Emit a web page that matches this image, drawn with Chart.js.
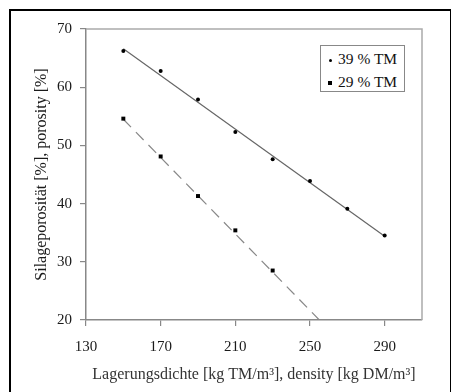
<!DOCTYPE html>
<html>
<head>
<meta charset="utf-8">
<script src="https://cdn.jsdelivr.net/npm/chart.js@4.4.1/dist/chart.umd.min.js"></script>
<style>
  body { margin: 0; background: #fff; overflow: hidden; }
  #wrap { position: relative; width: 451px; height: 392px; }
  #frame { position: absolute; left: 9px; top: 9px; width: 439px; height: 400px;
           border: 2px solid #000; border-bottom: none; pointer-events: none; }
  #legend { position: absolute; left: 320px; top: 45px; width: 83px; height: 45px;
            border: 1px solid #888; background: #fff;
            font: 15.5px "Liberation Serif", serif; color: #111; }
  #legend .row { position: absolute; left: 0; height: 20px; line-height: 20px; white-space: nowrap; }
  #legend .mark { display: inline-block; background: #000; vertical-align: middle; }
</style>
</head>
<body>
<div id="wrap">
  <canvas id="chart" width="451" height="392"></canvas>
  <div id="frame"></div>
  <div id="legend"></div>
</div>
<script>
// Data
const xTicks = [130, 170, 210, 250, 290];
const yTicks = [20, 30, 40, 50, 60, 70];

const density39 = [150, 170, 190, 210, 230, 250, 270, 290];
const porosity39 = [66.2, 62.8, 57.9, 52.3, 47.6, 43.9, 39.1, 34.5];

const density29 = [150, 170, 190, 210, 230];
const porosity29 = [54.6, 48.1, 41.3, 35.4, 28.5];

// regression lines (end points)
const fitX39 = [150, 290];
const fitY39 = [66.6, 34.4];
const fitX29 = [150, 255];
const fitY29 = [54.5, 20];

const labels = ['39 % TM', '29 % TM'];

const toPoints = (xs, ys) => xs.map((x, i) => ({ x: x, y: ys[i] }));

const FONT = 'Liberation Serif';
const textColor = '#1a1a1a';

// top/right frame of the plot area
const plotFrame = {
  id: 'plotFrame',
  afterDraw(chart) {
    const { ctx, chartArea: a } = chart;
    ctx.save();
    ctx.strokeStyle = '#aaa';
    ctx.lineWidth = 1.5;
    ctx.beginPath();
    ctx.moveTo(a.left, a.top);
    ctx.lineTo(a.right, a.top);
    ctx.lineTo(a.right, a.bottom);
    ctx.stroke();
    ctx.restore();
  }
};

const chart = new Chart(document.getElementById('chart'), {
  type: 'scatter',
  data: {
    datasets: [
      {
        label: labels[0],
        data: toPoints(density39, porosity39),
        pointStyle: 'circle',
        pointRadius: 2,
        backgroundColor: '#000',
        borderColor: '#000',
        borderWidth: 0,
        showLine: false
      },
      {
        label: labels[1],
        data: toPoints(density29, porosity29),
        pointStyle: 'rect',
        pointRadius: 2.8,
        backgroundColor: '#000',
        borderColor: '#000',
        borderWidth: 0,
        showLine: false
      },
      {
        label: 'fit39',
        data: toPoints(fitX39, fitY39),
        showLine: true,
        pointRadius: 0,
        borderColor: '#666',
        borderWidth: 1.2
      },
      {
        label: 'fit29',
        data: toPoints(fitX29, fitY29),
        showLine: true,
        pointRadius: 0,
        borderColor: '#888',
        borderWidth: 1.2,
        borderDash: [11, 7]
      }
    ]
  },
  options: {
    responsive: false,
    animation: false,
    layout: { padding: { left: 10, right: 29, top: 29, bottom: 0 } },
    plugins: {
      legend: { display: false },
      tooltip: { enabled: false }
    },
    scales: {
      x: {
        type: 'linear',
        min: 130,
        max: 310,
        afterBuildTicks: (s) => { s.ticks = xTicks.map(v => ({ value: v })); },
        afterFit: (s) => { s.height = 72; },
        grid: { drawOnChartArea: false, drawTicks: true, tickLength: 6, color: '#888', lineWidth: 1.2 },
        border: { color: '#888', width: 1.5 },
        ticks: { color: textColor, padding: 12, maxRotation: 0, font: { family: FONT, size: 15 } },
        title: {
          display: true,
          text: 'Lagerungsdichte [kg TM/m³], density [kg DM/m³]',
          color: '#333',
          padding: { top: 0, bottom: 8 },
          font: { family: FONT, size: 16 }
        }
      },
      y: {
        min: 20,
        max: 70,
        afterBuildTicks: (s) => { s.ticks = yTicks.map(v => ({ value: v })); },
        afterFit: (s) => { s.width = 76; },
        grid: { drawOnChartArea: false, drawTicks: true, tickLength: 6, color: '#888', lineWidth: 1.2 },
        border: { color: '#888', width: 1.5 },
        ticks: { color: textColor, padding: 8, font: { family: FONT, size: 15 } },
        title: {
          display: true,
          text: 'Silageporosität [%], porosity [%]',
          color: textColor,
          padding: { top: 22, bottom: 0 },
          font: { family: FONT, size: 16 }
        }
      }
    }
  },
  plugins: [plotFrame]
});

// HTML legend built from the point datasets
const legend = document.getElementById('legend');
chart.data.datasets.slice(0, 2).forEach((ds, i) => {
  const row = document.createElement('div');
  row.className = 'row';
  row.style.top = (3 + i * 23) + 'px';
  const mark = document.createElement('span');
  mark.className = 'mark';
  const sz = i === 0 ? 3 : 4;
  mark.style.width = sz + 'px';
  mark.style.height = sz + 'px';
  mark.style.margin = '0 6px 0 ' + (i === 0 ? 8 : 7) + 'px';
  if (i === 0) mark.style.borderRadius = '50%';
  row.appendChild(mark);
  row.appendChild(document.createTextNode(ds.label));
  legend.appendChild(row);
});
</script>
</body>
</html>
